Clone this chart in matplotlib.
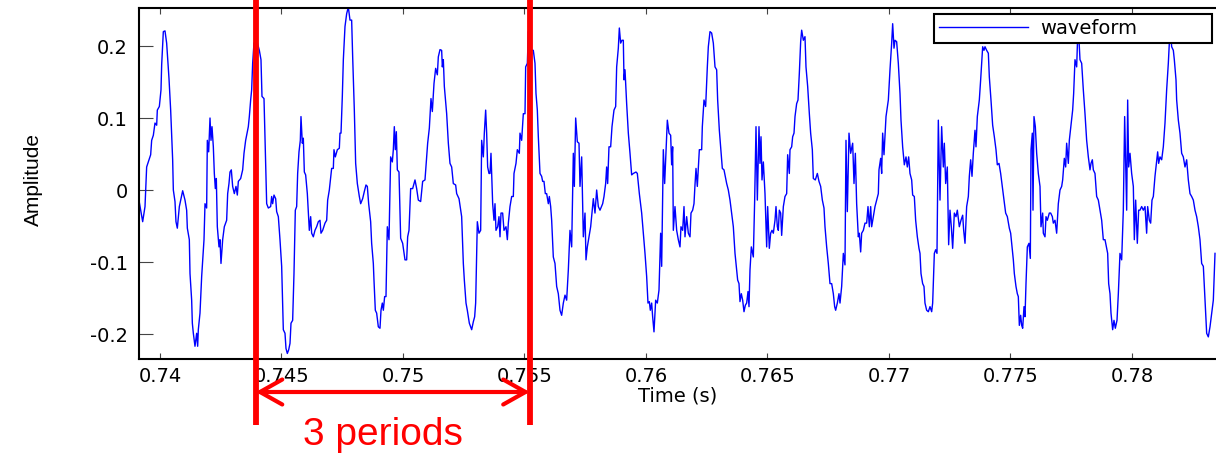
"""Waveform snapshot with a 3-period annotation (MATLAB-style figure)."""

import matplotlib
matplotlib.use("Agg")
import matplotlib.pyplot as plt  # noqa: E402
import matplotlib.transforms as mtransforms  # noqa: E402

# ---------------------------------------------------------------------------
# Data
# ---------------------------------------------------------------------------
time_ms = [
    739.108, 739.287, 739.383, 739.451, 739.616, 739.657, 739.726, 739.794, 739.863, 739.890,
    739.973, 740.041, 740.069, 740.137, 740.206, 740.274, 740.370, 740.439, 740.521, 740.549,
    740.617, 740.658, 740.713, 740.796, 740.933, 741.029, 741.097, 741.125, 741.207, 741.235,
    741.303, 741.331, 741.372, 741.440, 741.509, 741.550, 741.577, 741.646, 741.715, 741.811,
    741.852, 741.920, 741.948, 742.003, 742.058, 742.099, 742.140, 742.195, 742.236, 742.277,
    742.318, 742.359, 742.428, 742.469, 742.510, 742.579, 742.647, 742.743, 742.785, 742.839,
    742.881, 742.935, 742.990, 743.059, 743.127, 743.182, 743.224, 743.320, 743.402, 743.457,
    743.525, 743.635, 743.676, 743.731, 743.772, 743.813, 743.868, 743.978, 744.088, 744.156,
    744.197, 744.280, 744.321, 744.390, 744.458, 744.554, 744.595, 744.636, 744.691, 744.760,
    744.801, 744.870, 744.938, 745.007, 745.075, 745.144, 745.185, 745.240, 745.295, 745.350,
    745.391, 745.459, 745.514, 745.569, 745.624, 745.665, 745.720, 745.775, 745.802, 745.857,
    745.898, 745.940, 745.994, 746.063, 746.104, 746.145, 746.200, 746.241, 746.310, 746.378,
    746.447, 746.516, 746.584,
    746.625, 746.694, 746.790, 746.859, 746.900, 746.968, 747.064, 747.133, 747.160, 747.215,
    747.298, 747.380, 747.407, 747.449, 747.503, 747.545, 747.613, 747.682, 747.750, 747.819,
    747.887, 747.929, 747.997, 748.052, 748.121, 748.203, 748.258, 748.340, 748.409, 748.477,
    748.532, 748.587, 748.669, 748.710, 748.779, 748.806, 748.861, 748.916, 748.985, 749.053,
    749.095, 749.149, 749.191, 749.245, 749.300, 749.355, 749.424, 749.492, 749.561, 749.602,
    749.643, 749.684, 749.726, 749.767, 749.835, 749.904, 749.986, 750.082, 750.151, 750.192,
    750.247, 750.315, 750.398, 750.494, 750.562, 750.631, 750.727, 750.809, 750.905, 750.974,
    751.015, 751.084, 751.152, 751.207, 751.276, 751.344, 751.413, 751.454, 751.523, 751.591,
    751.619, 751.660, 751.701, 751.797, 751.866, 751.934, 752.003, 752.071, 752.167, 752.209,
    752.305, 752.414, 752.483, 752.524, 752.593, 752.647, 752.730, 752.826, 752.894, 752.949,
    752.990, 753.059, 753.127, 753.196, 753.237, 753.306, 753.347, 753.402, 753.443, 753.484,
    753.539, 753.580, 753.621, 753.690, 753.745, 753.786, 753.827, 753.896, 753.950, 753.992,
    754.033, 754.101, 754.156, 754.239, 754.294, 754.335, 754.403, 754.472, 754.540, 754.568,
    754.650, 754.705, 754.787, 754.815, 754.883, 754.952, 755.021, 755.048, 755.117, 755.158,
    755.226, 755.295, 755.363, 755.432, 755.473, 755.528, 755.569, 755.638, 755.706, 755.747,
    755.802, 755.857, 755.912, 755.981, 756.022, 756.077, 756.118, 756.186, 756.255, 756.324,
    756.392, 756.461, 756.529, 756.598, 756.667, 756.735, 756.804, 756.872, 756.941, 757.010,
    757.051, 757.106, 757.174, 757.243, 757.284, 757.353, 757.421, 757.490, 757.531, 757.586,
    757.654, 757.723, 757.764, 757.833, 757.901, 757.970, 758.038, 758.107, 758.217, 758.272,
    758.340, 758.381, 758.422, 758.477, 758.546, 758.601, 758.683, 758.752, 758.793, 758.861,
    758.903, 758.957, 759.012, 759.067, 759.095, 759.136, 759.204, 759.273, 759.342, 759.410,
    759.479, 759.588, 759.643, 759.726, 759.822, 759.890, 759.959, 760.027, 760.082, 760.137,
    760.178, 760.233, 760.274, 760.329, 760.398, 760.466, 760.535, 760.603, 760.645, 760.713,
    760.768, 760.878, 760.946, 761.015, 761.056, 761.097, 761.125, 761.193, 761.262, 761.330,
    761.399,
    761.440, 761.509, 761.564, 761.605, 761.673, 761.742, 761.811, 761.852, 761.920, 761.975,
    762.016, 762.058, 762.112, 762.195, 762.291, 762.318, 762.387, 762.455, 762.524, 762.565,
    762.634, 762.702, 762.771, 762.840, 762.908, 762.949, 763.018, 763.073, 763.141, 763.210,
    763.251, 763.320, 763.388, 763.457, 763.525, 763.594, 763.663, 763.731, 763.772, 763.827,
    763.868, 763.923, 763.978, 764.033, 764.088, 764.143, 764.198, 764.239, 764.280, 764.335,
    764.417, 764.472, 764.527, 764.582, 764.650, 764.691, 764.733, 764.774, 764.829, 764.897,
    764.966, 765.007, 765.075, 765.130, 765.185, 765.240, 765.309, 765.350, 765.405, 765.446,
    765.487, 765.542, 765.583, 765.652, 765.720, 765.789, 765.830, 765.898, 765.926, 765.995,
    766.036, 766.091, 766.132, 766.200, 766.255, 766.310, 766.365, 766.406, 766.475, 766.543,
    766.584, 766.653, 766.722, 766.776, 766.845, 766.886, 766.968, 767.051, 767.119, 767.188,
    767.257, 767.325, 767.366, 767.435, 767.503, 767.572, 767.641, 767.709, 767.764, 767.805,
    767.874, 767.942, 767.984, 768.052, 768.121, 768.189, 768.230, 768.285, 768.354, 768.422,
    768.505, 768.560, 768.615, 768.669, 768.738, 768.779,
    768.834, 768.875, 768.944, 769.012, 769.081, 769.136, 769.191, 769.246, 769.287, 769.355,
    769.424, 769.492, 769.561, 769.588, 769.657, 769.698, 769.739, 769.794, 769.877, 769.973,
    770.041, 770.110, 770.151, 770.206, 770.247, 770.315, 770.384, 770.453, 770.494, 770.562,
    770.631, 770.700, 770.754, 770.809, 770.864, 770.933, 770.974, 771.042, 771.097, 771.166,
    771.234, 771.276, 771.317, 771.385, 771.440, 771.481, 771.550, 771.619, 771.687, 771.756,
    771.797, 771.866, 771.920, 771.975, 772.030, 772.099, 772.167, 772.236, 772.277, 772.332,
    772.400, 772.455, 772.510, 772.565, 772.620, 772.689, 772.757, 772.812, 772.894, 772.963,
    773.032, 773.073, 773.128, 773.196, 773.265, 773.306, 773.361, 773.416, 773.470, 773.539,
    773.580, 773.635, 773.717, 773.772, 773.855, 773.909, 773.951, 774.019, 774.088, 774.129,
    774.197, 774.266, 774.335, 774.403, 774.458, 774.527, 774.595, 774.664, 774.733, 774.801,
    774.870, 774.952, 775.007, 775.048, 775.117, 775.158, 775.226, 775.281, 775.322, 775.364,
    775.418, 775.460, 775.501, 775.556, 775.597, 775.638, 775.693, 775.761, 775.816, 775.844,
    775.898, 775.926, 775.967, 776.022, 776.077, 776.145, 776.214,
    776.255, 776.324, 776.351, 776.420, 776.461, 776.516, 776.598, 776.653, 776.722, 776.763,
    776.831, 776.900, 776.968, 777.037, 777.106, 777.147, 777.215, 777.270, 777.311, 777.380,
    777.421, 777.490, 777.558, 777.599, 777.654, 777.723, 777.764, 777.819, 777.860, 777.929,
    777.997, 778.066, 778.134, 778.203, 778.272, 778.313, 778.368, 778.409, 778.477, 778.546,
    778.615, 778.683, 778.752, 778.820, 778.889, 778.999, 779.040, 779.095, 779.136, 779.204,
    779.259, 779.314, 779.383, 779.438, 779.506, 779.575, 779.643, 779.698, 779.781, 779.822,
    779.863, 779.918, 779.986, 780.055, 780.096, 780.151, 780.219, 780.274, 780.329, 780.398,
    780.466, 780.535, 780.603, 780.645, 780.713, 780.768, 780.823, 780.878, 780.946, 780.987,
    781.056, 781.097, 781.152, 781.221, 781.289, 781.358, 781.426, 781.495, 781.536, 781.591,
    781.632, 781.701, 781.742, 781.811, 781.838, 781.907, 781.975, 782.044, 782.112, 782.181,
    782.250, 782.318, 782.387, 782.455, 782.524, 782.593, 782.661, 782.730, 782.798, 782.867,
    782.936, 783.004, 783.073, 783.141, 783.210, 783.278, 783.347, 783.416,
]

amplitude = [
    -0.009, -0.044, -0.023, 0.032, 0.049, 0.069, 0.076, 0.093, 0.090, 0.111,
    0.116, 0.139, 0.174, 0.220, 0.221, 0.204, 0.155, 0.111, 0.042, 0.000,
    -0.016, -0.044, -0.053, -0.023, -0.001, -0.014, -0.028, -0.053, -0.069, -0.116,
    -0.153, -0.185, -0.199, -0.217, -0.199, -0.217, -0.194, -0.171, -0.120, -0.069,
    -0.019, -0.025, 0.069, 0.053, 0.100, 0.069, 0.088, 0.060, 0.023, 0.002,
    0.016, -0.051, -0.079, -0.069, -0.102, -0.069, -0.051, -0.042, -0.005, 0.009,
    0.025, 0.028, 0.005, -0.005, 0.005, -0.007, 0.012, 0.016, 0.028, 0.051,
    0.069, 0.088, 0.102, 0.125, 0.139, 0.176, 0.204, 0.208, 0.194, 0.181,
    0.130, 0.127, 0.074, -0.019, -0.025, -0.023, -0.009, -0.019, -0.007, -0.012,
    -0.030, -0.037, -0.069, -0.106, -0.194, -0.199, -0.220, -0.227, -0.222, -0.213,
    -0.185, -0.181, -0.116, -0.028, -0.023, 0.023, 0.053, 0.069, 0.102, 0.065,
    0.072, 0.025, 0.021, -0.005, -0.032, -0.056, -0.037, -0.060, -0.065, -0.056,
    -0.051, -0.044, -0.042,
    -0.060, -0.056, -0.046, -0.042, -0.014, 0.000, 0.030, 0.030, 0.056, 0.046,
    0.056, 0.058, 0.079, 0.079, 0.130, 0.181, 0.227, 0.245, 0.254, 0.236,
    0.236, 0.185, 0.111, 0.037, 0.009, -0.009, -0.019, -0.012, -0.002, 0.007,
    0.005, -0.019, -0.044, -0.074, -0.102, -0.125, -0.167, -0.171, -0.190, -0.192,
    -0.167, -0.157, -0.167, -0.148, -0.148, -0.051, -0.069, 0.046, 0.039, 0.056,
    0.088, 0.056, 0.081, 0.028, 0.025, -0.067, -0.074, -0.097, -0.097, -0.065,
    -0.056, 0.002, 0.002, 0.014, 0.002, -0.014, -0.016, 0.012, 0.014, 0.046,
    0.065, 0.086, 0.127, 0.109, 0.148, 0.169, 0.160, 0.185, 0.195, 0.194,
    0.171, 0.181, 0.144, 0.106, 0.065, 0.037, 0.032, 0.009, 0.007, -0.005,
    -0.012, -0.037, -0.102, -0.125, -0.157, -0.167, -0.185, -0.194, -0.183, -0.176,
    -0.157, -0.044, -0.060, -0.056, 0.069, 0.046, 0.079, 0.111, 0.079, 0.032,
    0.023, 0.023, 0.051, -0.019, -0.042, -0.019, -0.056, -0.051, -0.037, -0.065,
    -0.032, -0.032, -0.056, -0.051, -0.069, -0.046, -0.023, -0.009, -0.009, 0.023,
    0.037, 0.056, 0.051, 0.079, 0.069, 0.106, 0.106, 0.171, 0.176, 0.220,
    0.204, 0.194, 0.194, 0.176, 0.134, 0.111, 0.074, 0.023, 0.019, 0.012,
    0.012, -0.005, -0.005, -0.019, -0.009, -0.023, -0.042, -0.093, -0.102, -0.134,
    -0.144, -0.167, -0.174, -0.157, -0.146, -0.153, -0.111, -0.056, -0.079, 0.051,
    0.005, 0.100, 0.067, 0.065, 0.005, 0.046, -0.065, -0.032, -0.097, -0.079,
    -0.065, -0.051, -0.037, -0.012, -0.032, 0.000, -0.023, -0.028, -0.019, -0.009,
    0.009, 0.032, 0.009, 0.060, 0.060, 0.088, 0.111, 0.116, 0.171, 0.197,
    0.225, 0.204, 0.208, 0.208, 0.153, 0.167, 0.120, 0.079, 0.051, 0.021,
    0.023, 0.025, 0.023, -0.005, -0.032, -0.060, -0.088, -0.120, -0.157, -0.155,
    -0.167, -0.157, -0.176, -0.197, -0.153, -0.157, -0.139, -0.060, -0.106, 0.056,
    0.009, 0.097, 0.079, 0.076, 0.035, 0.060, -0.056, -0.023, -0.056, -0.069,
    -0.079,
    -0.051, -0.056, -0.023, -0.065, -0.037, -0.060, -0.065, -0.032, -0.028, -0.019,
    0.007, 0.030, 0.005, 0.056, 0.056, 0.088, 0.125, 0.116, 0.171, 0.199,
    0.220, 0.218, 0.204, 0.171, 0.167, 0.125, 0.083, 0.060, 0.030, 0.028,
    0.021, 0.009, 0.000, -0.014, -0.032, -0.051, -0.088, -0.111, -0.125, -0.130,
    -0.155, -0.144, -0.153, -0.169, -0.160, -0.157, -0.141, -0.162, -0.111, -0.079,
    -0.093, -0.014, 0.088, -0.014, 0.088, 0.037, 0.074, 0.014, 0.039, -0.005,
    -0.079, -0.023, -0.081, -0.060, -0.056, -0.060, -0.042, -0.023, -0.051, -0.056,
    -0.028, -0.032, -0.063, -0.023, -0.009, -0.005, 0.049, 0.023, 0.056, 0.060,
    0.074, 0.079, 0.102, 0.120, 0.125, 0.162, 0.206, 0.222, 0.208, 0.213,
    0.171, 0.144, 0.106, 0.079, 0.056, 0.016, 0.014, 0.023, 0.012, 0.005,
    -0.014, -0.025, -0.051, -0.079, -0.102, -0.130, -0.130, -0.144, -0.162, -0.167,
    -0.157, -0.144, -0.157, -0.134, -0.088, -0.104, 0.069, -0.030, 0.079, 0.051,
    0.065, 0.009, 0.051, -0.019, -0.065, -0.060,
    -0.086, -0.060, -0.056, -0.046, -0.046, -0.023, -0.051, -0.023, -0.051, -0.037,
    -0.023, -0.014, -0.005, 0.028, 0.044, 0.023, 0.079, 0.049, 0.102, 0.125,
    0.167, 0.204, 0.231, 0.197, 0.208, 0.206, 0.176, 0.134, 0.097, 0.060,
    0.035, 0.046, 0.032, 0.046, 0.023, 0.014, -0.007, -0.009, -0.042, -0.065,
    -0.081, -0.088, -0.116, -0.130, -0.134, -0.157, -0.167, -0.169, -0.162, -0.169,
    -0.157, -0.088, -0.083, -0.088, 0.097, -0.014, 0.088, 0.032, 0.065, 0.009,
    0.032, -0.076, -0.028, -0.051, -0.081, -0.032, -0.037, -0.028, -0.051, -0.042,
    -0.035, -0.056, -0.074, -0.023, -0.009, 0.019, 0.042, 0.019, 0.051, 0.083,
    0.060, 0.102, 0.125, 0.153, 0.199, 0.194, 0.199, 0.194, 0.190, 0.157,
    0.125, 0.090, 0.074, 0.056, 0.035, 0.037, 0.023, 0.005, -0.014, -0.032,
    -0.037, -0.053, -0.060, -0.074, -0.097, -0.116, -0.134, -0.144, -0.148, -0.188,
    -0.174, -0.188, -0.192, -0.162, -0.176, -0.130, -0.079, -0.074, -0.095, 0.056,
    0.079, -0.028, 0.102, 0.088, 0.051, 0.023, 0.005,
    -0.051, -0.032, -0.060, -0.065, -0.037, -0.042, -0.032, -0.032, -0.037, -0.046,
    -0.042, -0.060, -0.019, 0.000, 0.005, 0.014, 0.044, 0.032, 0.065, 0.037,
    0.069, 0.090, 0.111, 0.134, 0.181, 0.171, 0.213, 0.208, 0.181, 0.176,
    0.139, 0.106, 0.069, 0.046, 0.028, 0.037, 0.042, 0.028, 0.023, -0.009,
    -0.014, -0.028, -0.042, -0.069, -0.069, -0.088, -0.130, -0.144, -0.171, -0.194,
    -0.181, -0.192, -0.181, -0.144, -0.088, -0.097, -0.028, 0.102, -0.028, 0.125,
    0.032, 0.051, 0.023, 0.005, -0.069, -0.014, -0.074, -0.028, -0.028, -0.023,
    -0.028, -0.023, -0.060, -0.023, -0.042, -0.046, -0.014, -0.009, 0.019, 0.032,
    0.053, 0.037, 0.046, 0.042, 0.060, 0.093, 0.139, 0.176, 0.204, 0.218,
    0.199, 0.194, 0.181, 0.153, 0.125, 0.097, 0.079, 0.051, 0.046, 0.032,
    0.042, 0.014, -0.005, -0.009, -0.014, -0.028, -0.037, -0.051, -0.069, -0.102,
    -0.106, -0.153, -0.199, -0.204, -0.190, -0.171, -0.153, -0.088,
]

# start / end of the three marked periods (ms)
period_marks_ms = [743.942, 755.214]

x_ticks = [0.74, 0.745, 0.75, 0.755, 0.76, 0.765, 0.77, 0.775, 0.78]
x_ticklabels = ["0.74", "0.745", "0.75", "0.755", "0.76", "0.765", "0.77", "0.775", "0.78"]
y_ticks = [-0.2, -0.1, 0.0, 0.1, 0.2]
y_ticklabels = ["-0.2", "-0.1", "0", "0.1", "0.2"]

# ---------------------------------------------------------------------------
# Style
# ---------------------------------------------------------------------------
_BLUE = "#0000ff"
_RED = "#ff0000"
_TICK_GREY = "#444444"
_TICK_FONT = {"family": ["DejaVu Sans"], "size": 14}

W, H = 1216, 454

fig = plt.figure(figsize=(W / 100, H / 100), dpi=100)
ax = fig.add_axes([139 / W, 1 - 359 / H, 1077 / W, 351 / H])

t = [v / 1000 for v in time_ms]
ax.plot(t, amplitude, color=_BLUE, lw=1.0, label="waveform", zorder=2)

ax.set_xlim(0.739136, 0.783457)
ax.set_ylim(-0.2347, 0.2528)

ax.set_xticks(x_ticks, x_ticklabels, fontdict=_TICK_FONT)
ax.set_yticks(y_ticks, y_ticklabels, fontdict=_TICK_FONT)
ax.tick_params(axis="x", direction="in", length=4.5, width=0.8, color=_TICK_GREY,
               top=True, bottom=True, pad=6)
ax.tick_params(axis="y", direction="in", length=10, width=0.8, color=_TICK_GREY,
               left=True, right=False, pad=8)

for side in ("left", "bottom", "top"):
    ax.spines[side].set_linewidth(1.5)
    ax.spines[side].set_color("black")
ax.spines["right"].set_visible(False)

ax.set_xlabel("Time (s)", fontdict=_TICK_FONT)
ax.xaxis.set_label_coords(0.5, -0.077)
ax.set_ylabel("Amplitude", family="Liberation Sans", fontsize=15)
ax.yaxis.set_label_coords(-0.089, 0.51)

leg = ax.legend(loc="upper left",
                bbox_to_anchor=(934 / W, 1 - 14 / H, 278 / W, 0),
                bbox_transform=fig.transFigure, mode="expand",
                fancybox=False, framealpha=1, edgecolor="black",
                borderpad=0.25, borderaxespad=0, handlelength=4.6,
                handletextpad=0.6, prop={"family": "DejaVu Sans", "size": 14})
leg.get_frame().set_linewidth(1.5)
leg.set_zorder(10)

# ---------------------------------------------------------------------------
# Red "3 periods" annotation (x in data units, y in figure units)
# ---------------------------------------------------------------------------
trans = mtransforms.blended_transform_factory(ax.transData, fig.transFigure)
marks = [m / 1000 for m in period_marks_ms]
for m in marks:
    ax.plot([m, m], [1.0, 1 - 425 / H], transform=trans, color=_RED,
            lw=4.2, clip_on=False, zorder=5, solid_capstyle="butt")

arrow_y = 1 - 392 / H
ax.annotate("", xy=(marks[1], arrow_y), xytext=(marks[0], arrow_y),
            xycoords=trans, textcoords=trans, annotation_clip=False,
            arrowprops=dict(arrowstyle="<->,head_length=0.8,head_width=0.45",
                            color=_RED, lw=3, shrinkA=0, shrinkB=0,
                            mutation_scale=20))

fig.text(383 / W, 1 - 445 / H, "3 periods", ha="center", va="baseline",
         fontsize=28, color=_RED, family="Liberation Sans")

fig.savefig("out.png", dpi=100)
